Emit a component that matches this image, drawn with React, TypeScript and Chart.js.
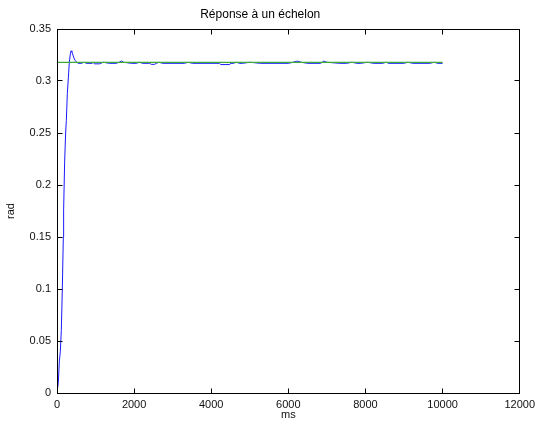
import React, { useEffect, useRef } from 'react';
import { Chart, registerables } from 'chart.js';

Chart.register(...registerables);

const titleText = 'Réponse à un échelon';
const xAxisLabel = 'ms';
const yAxisLabel = 'rad';

const xTickLabels = ['0', '2000', '4000', '6000', '8000', '10000', '12000'];
const yTickLabels = ['0', '0.05', '0.1', '0.15', '0.2', '0.25', '0.3', '0.35'];

// Step response (blue) – time in ms, value in rad
const responseTimes = [
  0, 17, 34, 60, 86, 112, 138, 164, 172, 198, 224, 242, 268, 294, 320, 345, 364, 385, 405, 440, 476, 520, 554,
  633, 700, 761, 917, 940, 969, 1099, 1200, 1358, 1540, 1610, 1670, 1730, 1930, 2058, 2140, 2215, 2400, 2449,
  2527, 2579, 2650, 2735, 3306, 3400, 3514, 4215, 4250, 4480, 4500, 4578, 4650, 4734, 4812, 5000, 5280, 6007,
  6120, 6233, 6330, 6500, 6838, 6916, 7000, 7331, 7513, 7650, 7773, 7877, 8050, 8214, 8448, 8530, 8604, 8994,
  9100, 9228, 9670, 9780, 9877, 10000,
];
const responseValues = [
  0, 0, 0.01, 0.03, 0.04, 0.06, 0.1, 0.15, 0.176, 0.222, 0.25, 0.262, 0.288, 0.303, 0.318, 0.326, 0.329, 0.328,
  0.326, 0.322, 0.3195, 0.3178, 0.317,
  0.317, 0.318, 0.317, 0.317, 0.318, 0.3165, 0.3165, 0.318, 0.317, 0.317, 0.318, 0.3192, 0.318, 0.317, 0.317,
  0.318, 0.317, 0.317, 0.316,
  0.316, 0.317, 0.318, 0.317, 0.317, 0.318, 0.317, 0.317, 0.3158, 0.3158, 0.317, 0.317, 0.318, 0.317, 0.317,
  0.318, 0.317, 0.317,
  0.318, 0.3191, 0.318, 0.317, 0.317, 0.3191, 0.318, 0.317, 0.317, 0.318, 0.317, 0.317, 0.318, 0.317, 0.317,
  0.318, 0.317, 0.317,
  0.318, 0.317, 0.317, 0.318, 0.317, 0.317,
];

// Set-point (green)
const setpointTimes = [0, 10000];
const setpointValues = [0.318, 0.318];

const xMin = 0;
const xMax = 12000;
const xStep = 2000;
const yMin = 0;
const yMax = 0.35;
const yStep = 0.05;

const FONT = "'Liberation Sans', Arial, Helvetica, sans-serif";

const matlabAxes = {
  id: 'matlabAxes',
  afterDraw(chart: any) {
    const { ctx, chartArea, scales } = chart;
    const { left, right, top, bottom } = chartArea;
    const px = (v: number) => Math.floor(v) + 0.5;
    const L = px(left), R = px(right), T = px(top), B = px(bottom);
    ctx.save();
    ctx.strokeStyle = '#000';
    ctx.lineWidth = 1;
    ctx.strokeRect(L, T, R - L, B - T);
    const tl = 5;
    ctx.beginPath();
    scales.x.ticks.forEach((t: any) => {
      const x = px(scales.x.getPixelForValue(t.value));
      if (x <= L + 1 || x >= R - 1) return;
      ctx.moveTo(x, B); ctx.lineTo(x, B - tl);
      ctx.moveTo(x, T); ctx.lineTo(x, T + tl);
    });
    scales.y.ticks.forEach((t: any) => {
      const y = px(scales.y.getPixelForValue(t.value));
      if (y <= T + 1 || y >= B - 1) return;
      ctx.moveTo(L, y); ctx.lineTo(L + tl, y);
      ctx.moveTo(R, y); ctx.lineTo(R - tl, y);
    });
    ctx.stroke();
    ctx.restore();
  },
};

export default function App() {
  const ref = useRef<HTMLCanvasElement | null>(null);

  useEffect(() => {
    if (!ref.current) return;
    const blue = responseTimes.map((t, i) => ({ x: t, y: responseValues[i] }));
    const green = setpointTimes.map((t, i) => ({ x: t, y: setpointValues[i] }));
    const chart = new Chart(ref.current, {
      type: 'line',
      data: {
        datasets: [
          {
            data: green,
            borderColor: '#3aaa3a',
            borderWidth: 1.3,
            pointRadius: 0,
            tension: 0,
            order: 0,
          },
          {
            data: blue,
            borderColor: '#1a1aff',
            borderWidth: 1,
            pointRadius: 0,
            tension: 0,
            order: 1,
          },
        ],
      },
      options: {
        animation: false,
        responsive: false,
        devicePixelRatio: 1,
        layout: { padding: { top: 0, right: 19.5, left: 0, bottom: 0 } },
        plugins: {
          legend: { display: false },
          tooltip: { enabled: false },
          title: {
            display: true,
            text: titleText,
            color: '#000',
            font: { family: FONT, size: 12, weight: 'normal' },
            padding: { top: 7, bottom: 7.6 },
          },
        },
        scales: {
          x: {
            type: 'linear',
            min: xMin,
            max: xMax,
            grid: { display: false, drawTicks: false },
            border: { display: false },
            ticks: {
              stepSize: xStep,
              padding: 5,
              color: '#111',
              font: { family: FONT, size: 11 },
              maxRotation: 0,
              callback: (_v: any, i: number) => xTickLabels[i],
            },
            title: {
              display: true,
              text: xAxisLabel,
              color: '#111',
              font: { family: FONT, size: 11 },
              padding: { top: 0, bottom: 8 },
            },
            afterFit: (s: any) => { s.height = 37; },
          },
          y: {
            type: 'linear',
            min: yMin,
            max: yMax,
            grid: { display: false, drawTicks: false },
            border: { display: false },
            ticks: {
              stepSize: yStep,
              padding: 6,
              color: '#111',
              font: { family: FONT, size: 11 },
              callback: (_v: any, i: number) => yTickLabels[i],
            },
            title: {
              display: true,
              text: yAxisLabel,
              color: '#111',
              font: { family: FONT, size: 11 },
              padding: { top: 4, bottom: 0 },
            },
            afterFit: (s: any) => { s.width = 57; },
          },
        },
      },
      plugins: [matlabAxes],
    });
    return () => chart.destroy();
  }, []);

  return (
    <div style={{ position: 'fixed', left: 0, top: 0, width: 540, height: 430, background: '#fff' }}>
      <canvas ref={ref} width={540} height={430} style={{ width: 540, height: 430, display: 'block' }} />
    </div>
  );
}
